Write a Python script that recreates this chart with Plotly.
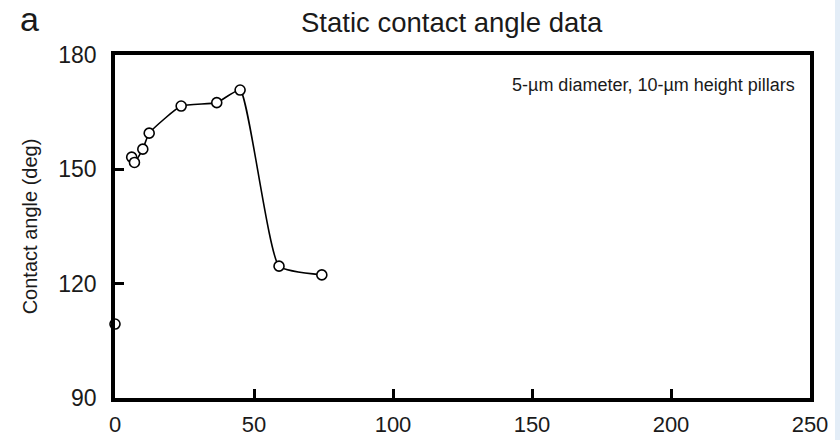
import plotly.graph_objects as go

# Data
x_isolated = [0]
y_isolated = [109.4]
x_curve = [6, 7, 10, 12.3, 23.8, 36.6, 45, 59, 74.4]
y_curve = [153.2, 151.8, 155.3, 159.5, 166.6, 167.5, 170.8, 124.6, 122.3]
x_ticks = [0, 50, 100, 150, 200, 250]
y_ticks = [90, 120, 150, 180]

W, H = 840, 440
L, R, T, B = 115, 30, 55, 42
PW, PH = W - L - R, H - T - B
FONT = "Liberation Sans, Arial, sans-serif"
TXT = "#1a1a1a"

marker = dict(symbol="circle", size=10, color="white", line=dict(width=1.6, color="black"))

fig = go.Figure()
fig.add_trace(go.Scatter(x=x_curve, y=y_curve, mode="lines+markers",
                         line=dict(color="black", width=1.6, shape="spline", smoothing=0.45),
                         marker=marker, cliponaxis=False, showlegend=False))
fig.add_trace(go.Scatter(x=x_isolated, y=y_isolated, mode="markers",
                         marker=marker, cliponaxis=False, showlegend=False))

axis_common = dict(showline=True, linecolor="black", linewidth=3.5, mirror=True,
                   ticks="inside", ticklen=9, tickwidth=3, tickcolor="black",
                   showgrid=False, zeroline=False, automargin=False)

fig.update_xaxes(range=[0, 250], tickvals=x_ticks, ticklabelstandoff=4,
                 tickfont=dict(family=FONT, size=22, color=TXT), **axis_common)
fig.update_yaxes(range=[90, 180], tickvals=y_ticks, ticklabelstandoff=10,
                 tickfont=dict(family=FONT, size=23, color=TXT),
                 title=dict(text="Contact angle (deg)", font=dict(family=FONT, size=20, color=TXT),
                            standoff=16),
                 **axis_common)


def fx(p):
    return (p - L) / PW


def fy(p):
    return (H - B - p) / PH


fig.add_annotation(text="Static contact angle data", xref="paper", yref="paper",
                   x=fx(452), y=fy(22), showarrow=False,
                   font=dict(family=FONT, size=27.5, color=TXT),
                   xanchor="center", yanchor="middle")
fig.add_annotation(text="a", xref="paper", yref="paper",
                   x=fx(29), y=fy(19), showarrow=False,
                   font=dict(family=FONT, size=34, color=TXT),
                   xanchor="center", yanchor="middle")
fig.add_annotation(text="5-µm diameter, 10-µm height pillars", xref="paper", yref="paper",
                   x=fx(797), y=fy(85), showarrow=False,
                   font=dict(family=FONT, size=18, color=TXT),
                   xanchor="right", yanchor="middle")

# light blue strip at right edge of the picture
fig.add_shape(type="rect", xref="paper", yref="paper",
              x0=fx(835), x1=fx(841), y0=-1, y1=2,
              fillcolor="#e3edf7", line=dict(width=0), layer="below")

fig.update_layout(width=W, height=H, margin=dict(l=L, r=R, t=T, b=B),
                  paper_bgcolor="white", plot_bgcolor="white",
                  font=dict(family=FONT))

fig.write_html("out.html")
